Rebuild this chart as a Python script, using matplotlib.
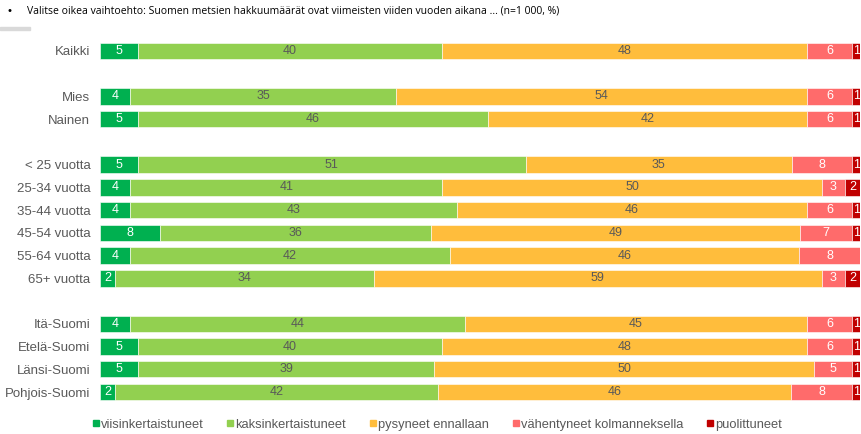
import numpy as np
import matplotlib.pyplot as plt
from matplotlib.lines import Line2D

plt.rcParams['font.family'] = ['Liberation Sans', 'DejaVu Sans']

# Data
categories = ['Kaikki', 'Mies', 'Nainen', '< 25 vuotta', '25-34 vuotta', '35-44 vuotta',
              '45-54 vuotta', '55-64 vuotta', '65+ vuotta', 'Itä-Suomi', 'Etelä-Suomi',
              'Länsi-Suomi', 'Pohjois-Suomi']
rows = [0, 2, 3, 5, 6, 7, 8, 9, 10, 12, 13, 14, 15]

series = ['viisinkertaistuneet', 'kaksinkertaistuneet', 'pysyneet ennallaan',
          'vähentyneet kolmanneksella', 'puolittuneet']
viisinkertaistuneet = [5, 4, 5, 5, 4, 4, 8, 4, 2, 4, 5, 5, 2]
kaksinkertaistuneet = [40, 35, 46, 51, 41, 43, 36, 42, 34, 44, 40, 39, 42]
pysyneet = [48, 54, 42, 35, 50, 46, 49, 46, 59, 45, 48, 50, 46]
vahentyneet = [6, 6, 6, 8, 3, 6, 7, 8, 3, 6, 6, 5, 8]
puolittuneet = [1, 1, 1, 1, 2, 1, 1, 0, 2, 1, 1, 1, 1]

colors = ['#00b050', '#92d050', '#ffbd3c', '#ff6b6b', '#c00000']
text_colors = ['white', '#595959', '#595959', 'white', 'white']

data = np.array([viisinkertaistuneet, kaksinkertaistuneet, pysyneet,
                 vahentyneet, puolittuneet], dtype=float)
share = data / data.sum(axis=0) * 100

fig = plt.figure(figsize=(8.61, 4.34), dpi=100)
ax = fig.add_axes([100 / 861, 0.0705, 760 / 861, 0.8383])

left = np.zeros(len(categories))
for i, name in enumerate(series):
    ax.barh(rows, share[i], left=left, height=0.72, color=colors[i],
            edgecolor='white', linewidth=0.4, label=name)
    for r, w, l, v in zip(rows, share[i], left, data[i]):
        if v > 0:
            ax.text(l + w / 2, r, f'{v:.0f}', ha='center', va='center',
                    fontsize=9, color=text_colors[i])
    left += share[i]

ax.set_xlim(0, 100)
ax.set_ylim(15.5, -0.5)
ax.set_yticks(rows)
ax.set_yticklabels(categories, fontsize=9.5, color='#595959')
ax.tick_params(axis='y', length=0, pad=7)
ax.set_xticks([])
for s in ax.spines.values():
    s.set_visible(False)

# title and small grey bar
fig.text(0.009, 0.975, '•', fontsize=8, va='center', color='black')
fig.text(0.031, 0.975, 'Valitse oikea vaihtoehto: Suomen metsien hakkuumäärät ovat viimeisten '
         'viiden vuoden aikana ... (n=1 000, %)', fontsize=7.45, va='center',
         family=['Open Sans', 'DejaVu Sans'], color='black')
fig.patches.append(plt.Rectangle((0, 0.931), 30 / 861, 0.007, color='#d9d9d9',
                                 transform=fig.transFigure, figure=fig))

handles = [Line2D([], [], marker='s', linestyle='', markersize=5, color=c) for c in colors]
fig.legend(handles, series, loc='center left', bbox_to_anchor=(0.093, 0.021), ncol=5,
           frameon=False, fontsize=9.3, handlelength=0.6, handletextpad=0.1,
           columnspacing=1.78, labelcolor='#595959')

fig.savefig('out.png', dpi=100)
